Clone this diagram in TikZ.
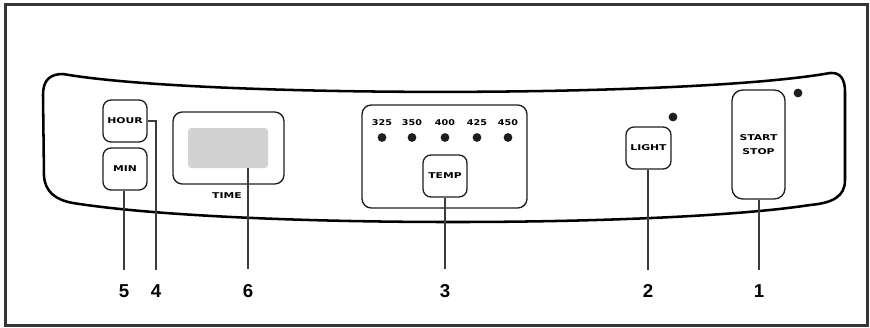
\documentclass[tikz,border=0pt]{standalone}
\usepackage{fontspec}
\newfontfamily\btnfont{DejaVu Sans}
\newfontfamily\numfont{Liberation Sans}
\newcommand{\bt}[1]{\scalebox{1.35}[1]{\btnfont\bfseries\fontsize{6}{10.5}\selectfont #1}}
\newcommand{\tn}[1]{\scalebox{1.2}[1]{\btnfont\bfseries\fontsize{6}{7}\selectfont #1}}
\definecolor{ink}{HTML}{1E1E1E}
\definecolor{conncol}{HTML}{3C3C3C}
\definecolor{lcd}{HTML}{D2D2D2}
\tikzset{
  btn/.style={draw=ink, line width=1pt, rounded corners=6pt, inner sep=0pt, align=center},
  conn/.style={draw=conncol, line width=1.1pt, shorten >=11pt},
  num/.style={inner sep=0pt, font=\numfont\bfseries\fontsize{14}{14}\selectfont},
  led/.style={circle, fill=ink, inner sep=0pt, minimum size=6.6pt},
}
\begin{document}
\begin{tikzpicture}[x=0.75pt, y=-0.75pt]
\useasboundingbox (0,0) rectangle (870,328);
% outer frame
\draw[line width=2.3pt, draw=ink!90] (5.5,4.5) rectangle (867.5,325.5);
% panel outline
\draw[line width=1.9pt, draw=black]
  (63,74) .. controls (200,98) and (690,98) .. (830,73)
  .. controls (841,72) and (845,80) .. (845,92)
  -- (845,180) .. controls (845,197) and (832,203) .. (810,205)
  .. controls (660,228) and (230,228) .. (73,203)
  .. controls (56,200) and (45,192) .. (44,176)
  -- (43,95) .. controls (43,80) and (50,74) .. (63,74) -- cycle;
% buttons
\node[btn, minimum width=33pt, minimum height=31.5pt] (hour) at (125,121) {\bt{HOUR}};
\node[btn, minimum width=33pt, minimum height=31.5pt] (min) at (125,169) {\bt{MIN}};
\node[btn, rounded corners=7pt, minimum width=83.25pt, minimum height=54pt] (tout) at (228.5,148) {};
\node[fill=lcd, rounded corners=2.5pt, minimum width=60pt, minimum height=30pt, inner sep=0pt] (tin) at (228,148) {};
\node (timelbl) at (227,196) {\bt{TIME}};
\node[btn, rounded corners=7pt, minimum width=123.75pt, minimum height=77.25pt] (tbox) at (444.5,156.5) {};
\node[btn, minimum width=33pt, minimum height=31.5pt] (temp) at (445,176) {\bt{TEMP}};
\node[btn, minimum width=33.75pt, minimum height=31.5pt] (light) at (648.5,148) {\bt{LIGHT}};
\node[btn, rounded corners=8pt, minimum width=39.75pt, minimum height=81.75pt] (start) at (758.5,144.5) {\bt{START}\\[-1.5pt]\bt{STOP}};
% leds
\node[led] (dl) at (673,117) {};
\node[led] (ds) at (798,93) {};
\foreach \x/\t in {382/325, 412/350, 445/400, 477/425, 508/450}{
  \node (t\t) at (\x,123) {\tn{\t}};
  \node[led] (d\t) at (\x,137.5) {};
}
% number labels
\node[num] (n5) at (124,291) {5};
\node[num] (n4) at (156,291) {4};
\node[num] (n6) at (248,291) {6};
\node[num] (n3) at (445,291) {3};
\node[num] (n2) at (648,291) {2};
\node[num] (n1) at (759,291) {1};
% connectors
\draw[conn] (min.south -| n5.north) -- (n5.north);
\draw[conn] (hour.east) -| (n4.north);
\draw[conn] (tin.south -| n6.north) -- (n6.north);
\draw[conn] (temp.south -| n3.north) -- (n3.north);
\draw[conn] (light.south -| n2.north) -- (n2.north);
\draw[conn] (start.south -| n1.north) -- (n1.north);
\end{tikzpicture}
\end{document}
